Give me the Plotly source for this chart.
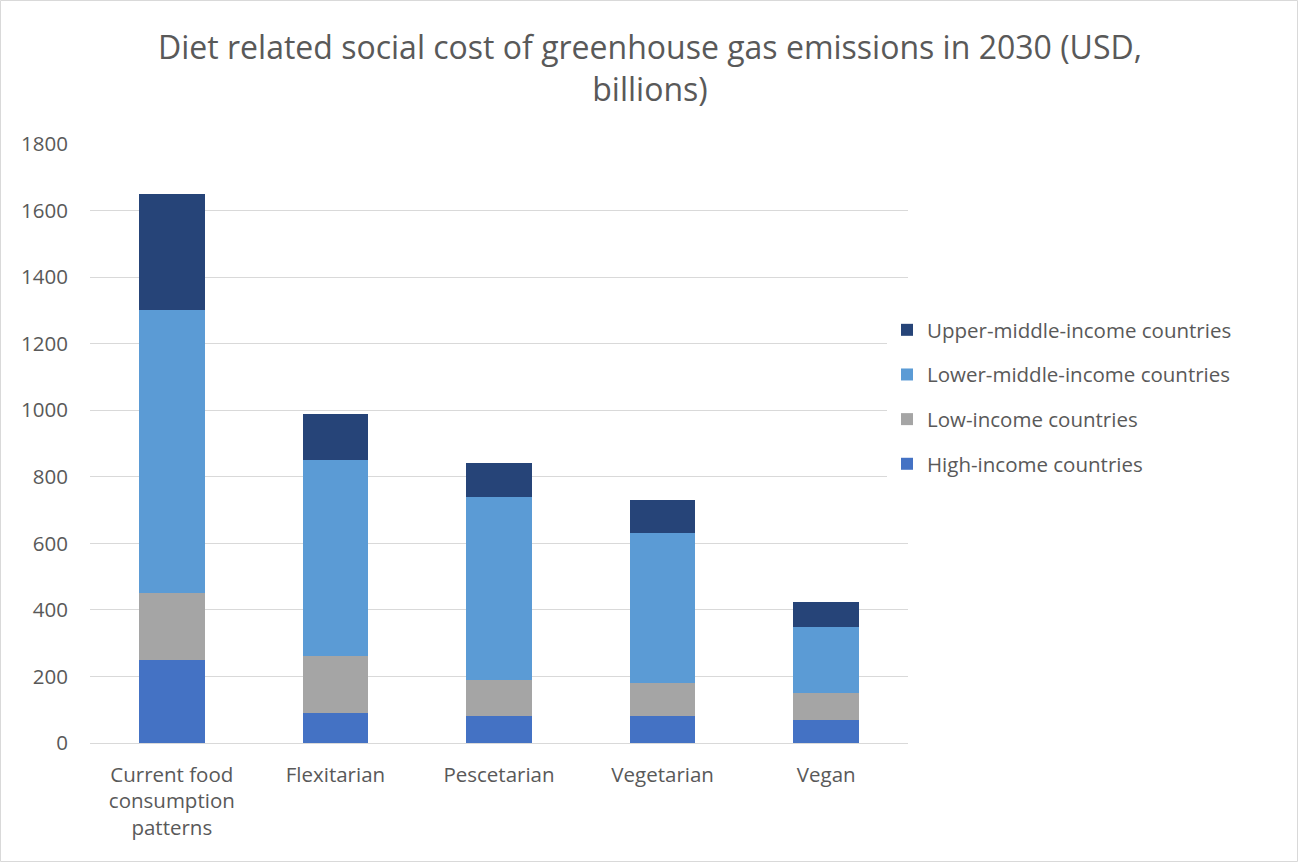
import plotly.graph_objects as go

categories = ["Current food<br>consumption<br>patterns", "Flexitarian", "Pescetarian", "Vegetarian", "Vegan"]
high_income = [250, 90, 80, 80, 70]
low_income = [200, 170, 110, 100, 80]
lower_middle_income = [850, 590, 550, 450, 200]
upper_middle_income = [350, 140, 100, 100, 75]

series = [
    ("High-income countries", high_income, "#4472C4", 4),
    ("Low-income countries", low_income, "#A5A5A5", 3),
    ("Lower-middle-income countries", lower_middle_income, "#5B9BD5", 2),
    ("Upper-middle-income countries", upper_middle_income, "#264478", 1),
]

fig = go.Figure()
for name, vals, color, rank in series:
    fig.add_trace(go.Bar(x=categories, y=vals, name=name, marker_color=color,
                         marker_line_width=0, legendgroup=name, legendrank=rank))

text_color = "#595959"
L, R, T, B = 90, 392, 144, 120
W, H = 1300, 863
pw, ph = W - L - R, H - T - B

fig.update_layout(
    width=W, height=H,
    barmode="stack", bargap=0.6,
    plot_bgcolor="white", paper_bgcolor="white",
    margin=dict(l=L, r=R, t=T, b=B),
    font=dict(family="Open Sans, sans-serif", color=text_color, size=20.5),
    title=dict(text="Diet related social cost of greenhouse gas emissions in 2030 (USD,<br>billions)",
               x=0.5, xanchor="center", y=1 - 59 / H, yanchor="middle",
               font=dict(size=32, color=text_color)),
    legend=dict(x=(887 - L) / pw, xanchor="left", y=(743 - 397) / ph, yanchor="middle",
                traceorder="grouped", tracegroupgap=15,
                font=dict(size=20.5, color=text_color)),
    showlegend=True,
)
fig.update_yaxes(range=[0, 1800], dtick=200, showgrid=True, gridcolor="#d9d9d9", gridwidth=1,
                 zeroline=True, zerolinecolor="#d9d9d9", zerolinewidth=1,
                 showline=False, ticks="", tickfont=dict(size=20.5, color=text_color),
                 ticklabelstandoff=21)
fig.update_xaxes(showgrid=False, showline=False, ticks="", tickfont=dict(size=20.5, color=text_color),
                 ticklabelstandoff=17)

# chart frame
fig.add_shape(type="rect", xref="paper", yref="paper",
              x0=-(L - 0.5) / pw, x1=(W - L - 2.5) / pw,
              y0=-(B - 1.5) / ph, y1=(ph + T - 0.5) / ph,
              line=dict(color="#d9d9d9", width=1), fillcolor="rgba(0,0,0,0)", layer="below")

fig.write_html("out.html", config={"displayModeBar": False},
               post_script="document.body.style.margin='0';")
